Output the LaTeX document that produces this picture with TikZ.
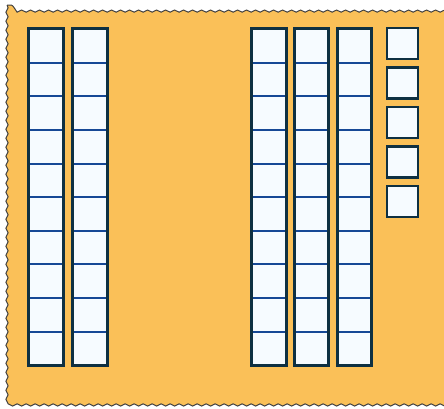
\documentclass[tikz,border=0pt]{standalone}
\usetikzlibrary{decorations.pathmorphing}
\definecolor{mat}{RGB}{250,192,88}
\definecolor{rim}{RGB}{14,48,66}
\definecolor{seam}{RGB}{22,72,150}
\definecolor{unitfill}{RGB}{246,251,255}
\tikzset{
    unit/.style={fill=unitfill, minimum width=34pt, minimum height=33.6pt, inner sep=0pt},
    seamline/.style={draw=seam, line width=2pt},
    rod/.style={draw=rim, line width=2.8pt},
    single/.style={draw=rim, line width=2.8pt, fill=unitfill, minimum size=31pt, inner sep=0pt},
}
\begin{document}
\begin{tikzpicture}[x=1pt, y=-1pt]
        \useasboundingbox (0,0) rectangle (444,408);
        % ---- mat with wavy edge ----
        \draw[fill=mat, draw=black!75, line width=1pt, decorate,
              decoration={snake, amplitude=1.1pt, segment length=9pt}]
            (7,5) rectangle (452,402);
        % ---- ten-rods ----
        \foreach \cx/\k in {46/1, 90/2, 269/3, 311.5/4, 354.5/5} {
            \foreach \r in {0,...,9} {
                \node[unit] (c-\k-\r) at (\cx, 45.8+33.6*\r) {};
            }
            \foreach \r in {0,...,8} {
                \draw[seamline] (c-\k-\r.south west) -- (c-\k-\r.south east);
            }
            \draw[rod] (c-\k-0.north west) rectangle (c-\k-9.south east);
        }
        % ---- single units ----
        \foreach \r in {0,...,4} {
            \node[single] (u-\r) at (402.5, 43.5+39.5*\r) {};
        }
    \end{tikzpicture}
\end{document}
